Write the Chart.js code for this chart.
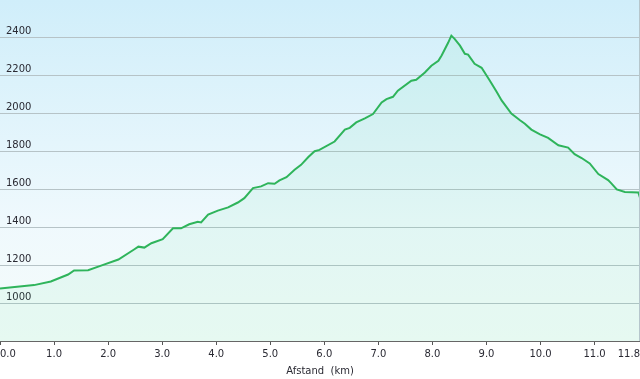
<!DOCTYPE html>
<html>
<head>
<meta charset="utf-8">
<script src="https://cdn.jsdelivr.net/npm/chart.js@4"></script>
<style>
  body { margin: 0; background: #fff; }
  #wrap { width: 640px; height: 379px; position: relative; }
</style>
</head>
<body>
<div id="wrap"><canvas id="profile_chart"></canvas></div>
<script>
// distance along the route (km) and elevation (m)
const distKm = [0, 0.63, 0.94, 1.26, 1.37, 1.63, 1.87, 2.19, 2.48, 2.56,
    2.67, 2.80, 3.01, 3.20, 3.35, 3.50, 3.66, 3.72, 3.85, 4.03,
    4.22, 4.40, 4.52, 4.68, 4.83, 4.96, 5.08, 5.17, 5.30, 5.45,
    5.57, 5.70, 5.82, 5.91, 6.19, 6.38, 6.47, 6.59, 6.75, 6.90,
    7.06, 7.15, 7.27, 7.36, 7.61, 7.70, 7.86, 7.98, 8.11, 8.17,
    8.29, 8.35, 8.41, 8.51, 8.60, 8.66, 8.78, 8.91, 9.06, 9.19,
    9.28, 9.46, 9.62, 9.71, 9.83, 9.99, 10.14, 10.33, 10.51, 10.63,
    10.76, 10.91, 11.07, 11.25, 11.31, 11.41, 11.56, 11.81, 11.84];
const elevation = [1077, 1095, 1114, 1151, 1172, 1174, 1198, 1230, 1283, 1298,
    1293, 1316, 1338, 1395, 1395, 1416, 1429, 1426, 1467, 1488,
    1505, 1531, 1554, 1607, 1616, 1633, 1630, 1648, 1665, 1704,
    1730, 1770, 1802, 1809, 1853, 1916, 1925, 1954, 1975, 1998,
    2059, 2077, 2089, 2121, 2174, 2179, 2217, 2253, 2279, 2307,
    2374, 2412, 2395, 2359, 2316, 2312, 2263, 2242, 2175, 2114,
    2070, 2000, 1965, 1947, 1916, 1891, 1872, 1833, 1821, 1786,
    1766, 1737, 1681, 1649, 1632, 1600, 1587, 1584, 1556];

const xTicks = [0, 1, 2, 3, 4, 5, 6, 7, 8, 9, 10, 11, 11.84];
const yMin = 800, yMax = 2600, yStep = 200;

const points = distKm.map((d, i) => ({x: d, y: elevation[i]}));

// sky gradient behind the plot area
const skyBackground = {
    id: 'skyBackground',
    beforeDraw(chart) {
        const {ctx, chartArea: a} = chart;
        const g = ctx.createLinearGradient(0, a.top, 0, a.bottom);
        g.addColorStop(0, '#d0eefa');
        g.addColorStop(0.65, '#eff9fd');
        g.addColorStop(1, '#f5fcfa');
        ctx.save();
        ctx.fillStyle = g;
        ctx.fillRect(a.left, a.top, a.right - a.left, a.bottom - a.top);
        ctx.restore();
    }
};

// thin frame line on the right edge
const rightEdge = {
    id: 'rightEdge',
    afterDraw(chart) {
        const {ctx, chartArea: a} = chart;
        ctx.save();
        ctx.strokeStyle = '#b6c6cc';
        ctx.lineWidth = 1;
        ctx.beginPath();
        ctx.moveTo(a.right - 0.5, a.top);
        ctx.lineTo(a.right - 0.5, a.bottom);
        ctx.stroke();
        ctx.restore();
    }
};

const font = {family: '"DejaVu Sans", Verdana, sans-serif', size: 10};

new Chart(document.getElementById('profile_chart'), {
    type: 'line',
    data: {
        datasets: [{
            data: points,
            borderColor: '#2fb45b',
            borderWidth: 2,
            backgroundColor: 'rgba(60, 220, 140, 0.08)',
            fill: 'start',
            pointRadius: 0,
            tension: 0
        }]
    },
    options: {
        responsive: true,
        maintainAspectRatio: false,
        animation: false,
        layout: {padding: 0},
        plugins: {
            legend: {display: false},
            tooltip: {enabled: false}
        },
        scales: {
            x: {
                type: 'linear',
                min: 0,
                max: 11.84,
                afterBuildTicks: (scale) => {
                    scale.ticks = xTicks.map(v => ({value: v}));
                },
                afterFit: (scale) => {
                    scale.paddingLeft = 0;
                    scale.paddingRight = 0;
                },
                ticks: {
                    autoSkip: false,
                    maxRotation: 0,
                    align: 'inner',
                    padding: 3,
                    color: '#2a2a33',
                    font: font,
                    callback: (v) => Number(v).toFixed(1)
                },
                grid: {
                    drawOnChartArea: false,
                    tickLength: 4,
                    tickColor: '#555'
                },
                border: {color: '#666', width: 1},
                title: {
                    display: true,
                    text: 'Afstand  (km)',
                    color: '#2a2a33',
                    font: font,
                    padding: {top: 2, bottom: 2}
                }
            },
            y: {
                min: yMin,
                max: yMax,
                afterFit: (scale) => {
                    scale.width = 0;
                    scale.paddingTop = 0;
                    scale.paddingBottom = 0;
                },
                ticks: {
                    stepSize: yStep,
                    mirror: true,
                    padding: 6,
                    labelOffset: -6,
                    color: '#2a2a33',
                    font: font,
                    callback: (v) => (v === yMin || v === yMax) ? '' : v
                },
                grid: {
                    drawTicks: false,
                    color: (ctx) => (ctx.tick && (ctx.tick.value === yMin || ctx.tick.value === yMax)) ? 'rgba(0,0,0,0)' : '#b6c3c7'
                },
                border: {display: false}
            }
        }
    },
    plugins: [skyBackground, rightEdge]
});
</script>
</body>
</html>
